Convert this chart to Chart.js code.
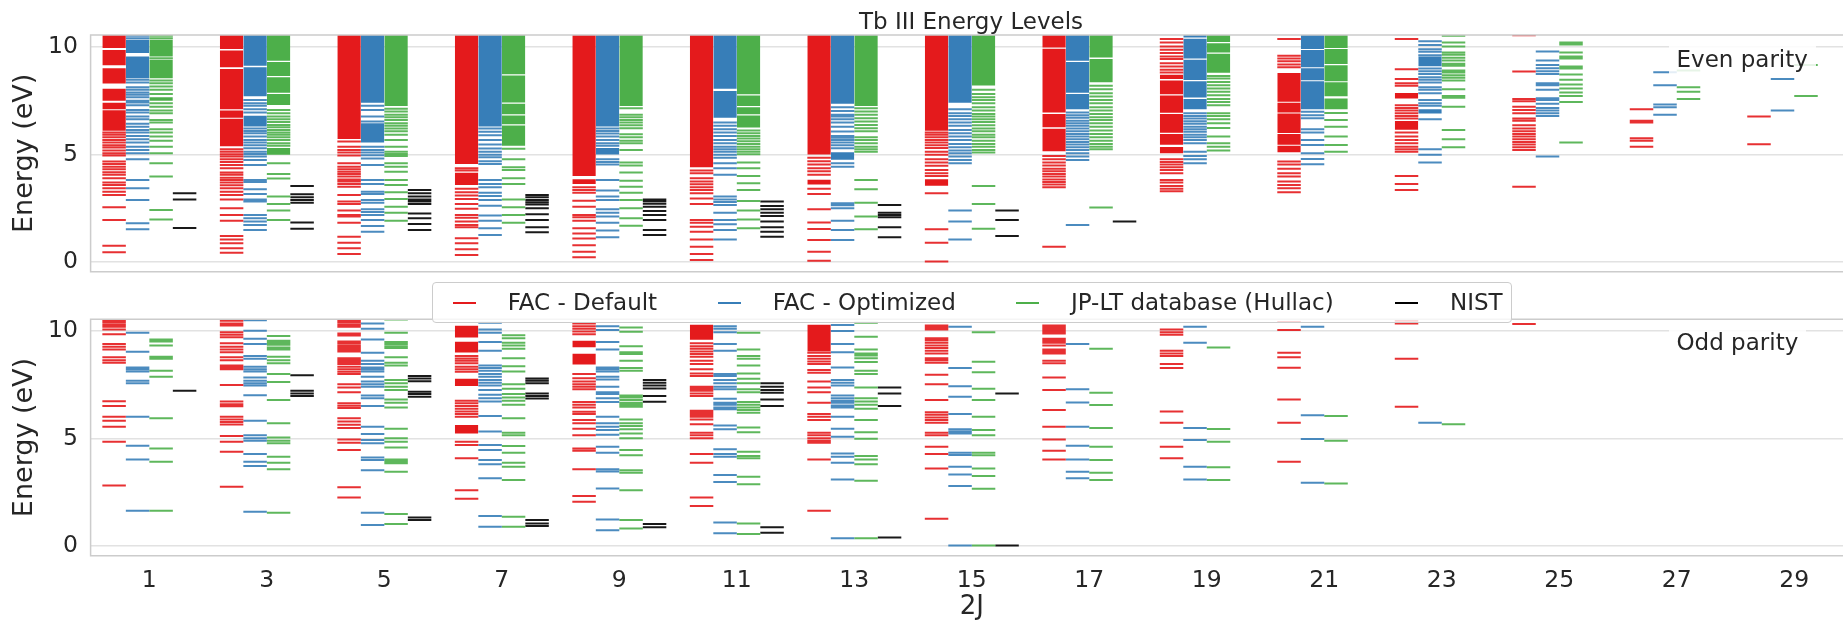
<!DOCTYPE html>
<html>
<head>
<meta charset="utf-8">
<title>Tb III Energy Levels</title>
<script src="https://cdn.jsdelivr.net/npm/chart.js@4.4.1/dist/chart.umd.min.js"></script>
<style>
  body { margin: 0; width: 1843px; height: 623px; overflow: hidden; background: #fff; position: relative;
         font-family: "DejaVu Sans", sans-serif; color: #262626; }
  .panel { position: absolute; left: 0; }
  #evenPanel { top: 0; }
  #oddPanel { top: 300px; }
  #title { position: absolute; top: 9.8px; left: 971px; transform: translateX(-50%); font-size: 23px; line-height: 23px; white-space: nowrap; z-index: 3; }
  .tag { position: absolute; left: 1668.5px; font-size: 23px; line-height: 30px; padding: 4px 8px;
         background: rgba(255,255,255,0.85); white-space: nowrap; z-index: 3; }
  #evenTag { top: 39.7px; }
  #oddTag { top: 323px; }
  #legend { position: absolute; left: 431.7px; top: 281.7px; width: 1078px; height: 39.5px; box-sizing: content-box;
            border: 1px solid #cccccc; border-radius: 4px; background: rgba(255,255,255,0.8);
            font-size: 23px; line-height: 39.5px; white-space: nowrap; z-index: 4; padding-left: 0; }
  #legend .item { position: absolute; top: 0; }
  #legend .swatch { display: inline-block; width: 23.3px; height: 2px; vertical-align: middle; margin-right: 31.7px; }
</style>
</head>
<body>
<div id="title">Tb III Energy Levels</div>
<div class="panel" id="evenPanel"><canvas id="even" width="1853" height="300"></canvas></div>
<div class="panel" id="oddPanel"><canvas id="odd" width="1853" height="323"></canvas></div>
<div class="tag" id="evenTag">Even parity</div>
<div class="tag" id="oddTag">Odd parity</div>
<div id="legend"></div>
<script>
// 2J values, one group of level columns per value
const twoJ = [1, 3, 5, 7, 9, 11, 13, 15, 17, 19, 21, 23, 25, 27, 29];
const xTicks = [1, 3, 5, 7, 9, 11, 13, 15, 17, 19, 21, 23, 25, 27, 29];
const yTicks = [0, 5, 10];

const sourceNames = ["FAC - Default", "FAC - Optimized", "JP-LT database (Hullac)", "NIST"];
const sourceColors = ["#e41a1c", "#377eb8", "#4daf4a", "#000000"];
const sourceOffsets = [-0.8, -0.4, 0, 0.4];
const colWidth = 0.4;

// ---- even parity levels (eV), one list per 2J ----
const evenDefault = [
  [6.02,5.91,5.80,5.67,5.55,5.43,5.32,5.18,5.05,4.95,4.67,4.56,4.43,4.31,4.17,4.05,3.89,3.69,3.58,3.43,3.27,3.12,2.54,1.95,0.76,0.45],
  [5.24,5.12,5.01,4.9,4.78,4.65,4.51,4.36,4.16,4.05,3.92,3.81,3.69,3.57,3.43,3.27,3.12,2.91,2.5,2.19,1.92,1.21,1.05,0.87,0.64,0.43],
  [5.6,5.36,5.21,5.09,4.95,4.59,4.43,4.31,4.2,4.09,3.97,3.84,3.74,3.63,3.5,3.12,2.81,2.7,2.39,2.19,2.11,1.83,1.18,0.9,0.64,0.37],
  [4.36,4.25,3.4,3.24,3.09,2.93,2.7,2.47,2.19,2.06,1.88,1.72,1.61,1.1,0.87,0.59,0.33],
  [3.47,3.35,3.22,2.85,2.57,2.19,2.08,1.92,1.57,1.33,1.09,0.78,0.48,0.22],
  [4.25,4.12,3.89,3.74,3.61,3.47,3.35,3.19,2.95,2.7,1.95,1.83,1.64,1.41,1.05,0.71,0.37,0.09],
  [4.84,4.68,4.53,4.36,4.22,4.06,3.41,3.16,2.45,1.84,1.53,1.02,0.48,0.06],
  [6.02,5.91,5.8,5.67,5.55,5.43,5.3,5.13,4.98,4.78,4.62,4.47,4.28,4.12,4.0,3.19,1.52,0.9,0.02],
  [4.93,4.78,4.62,4.48,4.34,4.22,4.09,3.97,3.84,3.72,3.6,3.47,0.71],
  [10.36,10.2,10.02,9.86,9.71,9.55,9.43,9.24,9.09,8.93,8.81,4.78,4.65,4.53,4.4,4.28,4.12,3.81,3.69,3.53,3.41,3.29],
  [10.36,9.58,9.46,9.33,9.18,9.05,4.67,4.53,4.34,4.12,3.97,3.74,3.58,3.43,3.24],
  [10.36,8.96,8.5,8.31,8.19,7.29,7.16,7.04,6.91,6.79,6.67,6.02,5.83,5.67,5.52,5.36,5.24,5.12,4.0,3.63,3.35],
  [10.54,8.85,7.57,7.47,7.22,7.07,6.91,6.67,6.57,6.36,6.2,6.08,5.95,5.83,5.71,5.58,5.46,5.33,5.21,3.5],
  [7.1,6.57,6.48,5.75,5.64,5.36],
  [6.76,5.47]
];
// ranges packed so densely that the levels merge into a block
const evenDefaultBands = [
  [[9.95,10.55],[9.15,9.85],[8.3,9.0],[7.5,8.05],[7.1,7.4],[6.1,7.05]],
  [[9.9,10.55],[9.05,9.83],[7.1,8.97],[6.71,7.04],[5.38,6.66]],
  [[5.72,10.55]],
  [[4.55,10.55],[3.58,4.15]],
  [[4.0,10.55],[3.62,3.85]],
  [[4.4,10.55]],
  [[5.0,10.55],[3.6,3.82]],
  [[6.1,10.55],[3.55,3.85]],
  [[9.97,10.55],[6.95,9.91],[6.26,6.88],[5.15,6.19]],
  [[8.5,8.7],[7.8,8.44],[6.94,7.74],[6.01,6.88],[5.45,5.95],[5.05,5.35]],
  [[7.45,8.78],[6.95,7.4],[6.0,6.9],[5.45,5.95],[5.1,5.4]],
  [[7.6,7.85],[6.15,6.55]]
];
const evenOptimized = [
  [10.51,10.4,8.47,8.34,8.12,8.0,7.88,7.77,7.66,7.5,7.41,7.29,7.07,6.95,6.76,6.64,6.42,6.29,6.14,6.02,5.86,5.71,5.55,5.36,5.21,5.05,4.78,3.81,3.43,2.88,1.8,1.52],
  [7.53,7.38,7.26,7.1,6.95,6.2,6.09,5.98,5.83,5.67,5.55,5.43,5.29,5.13,5.02,4.9,4.74,4.51,3.81,3.72,3.38,3.16,2.91,2.81,2.19,2.03,1.88,1.72,1.49],
  [7.26,7.07,6.76,6.53,5.36,5.21,5.09,4.96,4.81,4.51,3.81,3.63,3.27,3.16,2.88,2.76,2.45,2.33,2.19,1.95,1.67,1.41],
  [6.2,6.05,5.89,5.67,5.46,5.27,5.12,4.99,4.87,4.68,4.56,3.81,3.63,3.47,3.22,3.07,2.88,2.62,2.16,1.92,1.57,1.26],
  [6.2,6.09,5.97,5.83,5.67,5.52,5.4,4.78,4.65,4.53,3.81,3.32,3.04,2.88,2.45,2.29,2.11,1.83,1.46,1.15],
  [6.48,6.33,6.17,6.02,5.86,5.67,5.52,5.36,5.24,5.12,4.99,4.84,4.59,4.36,4.05,3.04,2.91,2.79,2.65,2.29,1.95,1.75,1.49,1.05],
  [7.19,7.02,6.84,6.76,6.64,6.48,6.29,6.06,5.86,5.77,5.67,5.55,5.43,5.29,4.59,4.43,2.73,2.64,2.5,1.92,1.49,1.02],
  [7.1,6.91,6.79,6.64,6.48,6.33,6.14,5.98,5.83,5.67,5.49,5.33,5.18,5.05,4.9,4.74,4.59,2.39,1.88,1.05],
  [6.95,6.82,6.7,6.57,6.45,6.33,6.2,6.08,5.95,5.83,5.71,5.58,5.46,5.33,5.21,5.05,4.9,4.74,1.72],
  [6.91,6.79,6.67,6.54,6.42,6.29,6.17,6.05,5.92,5.8,5.67,5.52,5.13,4.93,4.78,4.59],
  [6.98,6.82,6.68,6.17,6.02,5.67,5.44,5.05,4.79,4.54],
  [10.26,10.08,9.89,9.77,9.61,8.99,8.87,8.74,8.59,8.47,8.34,8.12,8.0,7.84,7.53,7.38,7.26,6.64,5.24,4.98,4.62],
  [9.78,9.36,9.16,9.01,8.87,8.74,8.31,8.22,8.0,7.61,7.53,7.35,7.16,7.04,6.91,6.79,4.9],
  [8.82,8.22,7.32,7.19,6.84],
  [8.5,7.04]
];
const evenOptimizedBands = [
  [[9.71,10.33],[8.54,9.55]],
  [[9.12,10.55],[7.7,9.05],[6.3,6.8]],
  [[7.4,10.55],[5.55,6.45]],
  [[6.3,10.55]],
  [[6.3,10.55],[5.0,5.3]],
  [[8.05,10.55],[6.7,7.95]],
  [[7.35,10.55],[4.75,5.1]],
  [[7.4,10.55]],
  [[9.35,10.55],[7.87,9.29],[7.1,7.81]],
  [[10.43,10.55],[9.46,10.37],[8.46,9.4],[7.64,8.4],[7.1,7.58]],
  [[9.9,10.55],[9.05,9.85],[8.45,9.0],[7.1,8.4]],
  [[9.1,9.55],[6.9,7.1]]
];
const evenJplt = [
  [10.51,10.4,9.47,8.43,8.31,8.16,8.0,7.81,7.38,7.22,7.04,6.91,6.6,6.48,6.17,6.02,5.83,5.64,5.36,5.05,4.59,3.97,2.42,1.98],
  [7.07,6.91,6.76,6.64,6.51,6.37,6.26,6.14,6.02,5.91,5.8,5.67,5.52,5.4,4.59,4.09,3.88,3.04,2.7,2.39,1.95],
  [7.12,6.99,6.84,6.73,6.6,6.45,6.33,6.2,6.08,5.91,5.67,5.36,5.13,5.02,4.93,4.59,4.43,4.2,3.81,3.58,3.24,2.93,2.57,2.29,1.92],
  [5.26,4.78,4.4,4.28,3.89,3.63,2.91,2.54,2.19,1.83],
  [7.15,6.84,6.73,6.6,6.48,6.36,6.22,5.94,5.8,5.64,5.52,5.21,4.62,4.48,4.16,3.78,3.5,3.22,2.88,2.5,2.03,1.69],
  [6.11,5.98,5.86,5.74,5.61,5.49,5.36,5.24,5.12,5.01,4.62,4.36,4.0,3.66,3.35,2.84,2.39,1.98,1.57],
  [7.15,6.99,6.84,6.68,6.53,6.37,6.22,6.08,5.8,5.67,5.52,5.36,5.24,5.13,3.81,3.38,2.76,2.11,1.52],
  [8.0,7.81,7.66,7.53,7.38,7.19,7.04,6.88,6.76,6.64,6.51,6.36,6.2,6.08,5.92,5.8,5.64,5.49,5.36,5.21,5.09,3.53,2.7,1.55],
  [8.19,8.03,7.84,7.69,7.53,7.38,7.19,7.04,6.88,6.73,6.6,6.45,6.29,6.11,5.95,5.8,5.64,5.49,5.36,5.24,2.53],
  [8.65,8.53,8.37,8.22,8.06,7.91,7.75,7.57,7.44,7.29,6.91,6.79,6.64,6.45,6.23,5.83,5.52,5.36,5.18],
  [6.92,6.6,6.29,5.83,5.44,5.13],
  [10.51,10.2,10.02,9.74,9.63,9.49,9.36,9.21,9.12,8.9,8.81,8.68,8.56,8.43,8.03,7.72,7.63,7.22,6.14,5.71,5.33],
  [10.2,10.11,9.74,9.55,9.46,9.09,8.99,8.71,8.47,8.25,8.06,7.88,7.72,7.44,5.55],
  [8.9,8.12,7.91,7.57],
  [9.16,7.72]
];
const evenJpltBands = [
  [[9.55,10.33],[8.54,9.4],[7.5,7.66]],
  [[9.35,10.55],[8.65,9.29],[7.87,8.59],[7.3,7.81],[4.98,5.3]],
  [[7.25,10.55]],
  [[8.73,10.55],[7.41,8.67],[6.87,7.35],[6.4,6.81],[5.4,6.34]],
  [[7.25,10.55]],
  [[7.8,10.55],[7.25,7.74],[6.87,7.19],[6.25,6.81]],
  [[7.25,10.55]],
  [[8.2,10.55]],
  [[9.5,10.55],[8.35,9.44]],
  [[10.23,10.55],[9.74,10.17],[8.8,9.68]],
  [[9.95,10.55],[9.2,9.9],[8.4,9.15],[7.7,8.35],[7.1,7.6]]
];
const evenNist = [
  [3.19,2.91,1.58],
  [3.53,3.15,3.01,2.88,2.76,1.84,1.55],
  [3.35,3.19,3.04,2.91,2.81,2.7,2.26,2.03,1.77,1.49],
  [3.12,3.01,2.88,2.78,2.67,2.5,2.22,1.95,1.61,1.38],
  [2.91,2.82,2.71,2.57,2.37,2.19,1.95,1.49,1.26],
  [2.81,2.6,2.45,2.29,2.14,1.88,1.61,1.41,1.18],
  [2.65,2.29,2.19,2.08,1.61,1.15],
  [2.39,1.95,1.21],
  [1.88]
];

// ---- odd parity levels (eV) ----
const oddDefault = [
  [10.48,10.39,10.29,10.2,10.08,9.86,9.4,9.27,9.15,8.78,8.65,8.53,6.74,6.51,6.02,5.83,5.55,4.85,2.82],
  [10.48,10.36,10.26,9.95,9.83,9.71,9.43,9.27,9.15,9.02,8.78,8.65,8.4,8.31,8.22,7.49,6.73,6.6,6.5,6.02,5.89,5.77,5.66,5.12,4.85,4.39,2.76],
  [10.48,10.39,10.29,10.2,9.89,9.8,9.52,9.43,9.33,9.24,9.15,9.05,8.74,8.65,8.56,8.47,8.34,8.22,8.11,8.0,7.53,7.38,7.16,6.64,6.53,6.42,5.95,5.8,5.64,5.49,4.96,4.81,4.47,2.73,2.26],
  [8.84,8.73,8.62,8.5,8.34,8.22,8.11,6.76,6.64,6.51,6.39,6.26,6.14,6.02,4.85,4.7,4.08,2.6,2.2],
  [10.36,10.23,10.11,9.98,9.86,8.0,7.81,7.66,7.53,7.41,7.29,6.7,6.57,6.45,6.25,6.14,5.86,5.71,5.46,5.15,4.54,4.43,3.57,2.33,2.06],
  [9.43,9.3,9.18,9.05,8.93,8.81,8.62,8.47,8.22,8.03,7.91,7.41,7.32,7.22,7.1,6.98,6.29,6.2,6.11,6.02,5.89,5.67,5.27,5.15,5.02,4.28,3.88,2.26,1.86],
  [8.99,8.84,8.71,8.59,8.47,8.19,8.06,7.66,7.38,7.16,6.67,6.14,6.02,5.86,5.27,5.15,5.02,4.9,4.81,4.03,1.64],
  [10.26,10.17,10.08,9.67,9.58,9.46,9.33,9.21,9.09,8.96,8.74,8.65,8.53,7.97,7.53,6.79,6.23,6.11,5.98,5.86,5.74,5.27,5.15,4.62,4.28,3.61,1.27],
  [10.26,10.17,10.08,9.98,9.89,9.64,9.55,9.46,9.33,9.15,9.05,8.96,8.62,8.5,7.84,7.26,6.33,5.55,4.96,4.43,4.03],
  [10.08,9.95,9.83,9.09,8.96,8.84,8.47,8.28,6.26,5.74,4.62,4.08],
  [10.43,10.05,8.99,8.78,8.29,6.82,5.74,3.92],
  [10.48,10.36,8.71,6.48],
  [10.33]
];
const oddDefaultBands = [
  [], [], [],
  [[9.7,10.25],[9.0,9.5],[7.45,7.78],[5.24,5.63]],
  [[9.25,9.55],[8.45,8.95]],
  [[9.6,10.3]],
  [[9.05,10.3]]
];
const oddOptimized = [
  [9.92,9.04,8.31,8.22,8.12,7.69,7.57,6.02,4.67,4.03,1.64],
  [10.51,10.02,9.64,9.4,8.84,8.71,8.34,8.23,8.12,7.84,7.69,7.57,7.47,7.02,5.83,5.16,5.01,4.9,4.28,3.92,3.72,1.6],
  [10.36,10.11,9.61,8.99,8.62,8.47,8.31,8.22,8.12,7.88,7.66,7.53,7.41,7.01,6.88,6.51,5.55,5.21,4.93,4.78,4.12,4.0,3.53,1.55,0.98],
  [10.39,10.08,9.92,9.49,9.09,8.4,8.28,8.16,8.0,7.88,7.72,7.6,7.47,7.26,7.04,6.88,6.73,6.05,5.33,4.7,4.47,4.0,3.81,3.15,1.4,0.9],
  [10.23,10.05,9.49,9.15,8.31,8.22,8.12,7.88,7.75,7.41,7.16,7.07,6.88,6.7,6.02,5.71,5.55,5.4,5.18,4.62,4.34,3.57,3.47,2.68,1.24,0.74],
  [10.23,10.11,9.95,9.4,9.09,8.0,7.91,7.72,7.57,7.41,7.29,6.85,6.67,6.57,6.45,6.36,5.61,5.43,4.5,4.28,4.16,3.3,2.98,1.09,0.59],
  [10.28,10.0,9.4,9.02,8.31,7.72,7.6,7.47,7.01,6.88,6.76,6.67,6.54,6.45,6.02,5.46,5.09,4.31,4.16,3.88,3.1,0.36],
  [10.2,8.28,7.44,6.95,6.14,5.43,5.33,5.24,4.34,4.23,3.69,3.33,2.79,0.03],
  [9.4,7.3,6.68,5.55,4.67,4.03,3.46,3.15],
  [10.2,9.46,5.49,4.93,3.69,3.1],
  [10.2,6.08,4.98,2.95],
  [5.74]
];
const oddJplt = [
  [9.61,9.52,9.33,8.81,8.71,8.16,7.88,5.94,4.54,3.92,1.64],
  [9.77,9.55,9.46,9.36,9.24,9.15,8.81,8.65,8.5,8.0,7.63,6.79,5.71,5.05,4.9,4.78,4.16,3.88,3.57,1.55],
  [10.54,9.92,9.49,9.4,9.3,9.21,8.78,8.53,8.4,7.72,7.57,7.41,7.26,6.82,6.67,6.45,5.46,5.01,4.85,4.59,4.03,3.94,3.85,3.46,1.49,1.02],
  [9.81,9.67,9.46,9.33,9.18,8.74,8.37,8.12,7.53,7.32,7.07,6.91,6.76,6.57,5.94,5.27,5.16,4.65,4.34,3.88,3.69,3.07,1.36,0.9],
  [10.17,9.97,9.3,9.02,8.93,8.62,8.28,8.16,7.01,6.91,6.79,6.67,6.57,6.48,5.89,5.71,5.58,5.43,5.24,5.01,4.47,4.22,3.53,3.41,2.6,1.21,0.82],
  [9.92,9.15,8.84,8.71,8.4,8.03,7.78,7.57,7.29,7.16,6.7,6.57,6.45,6.33,6.2,5.52,5.3,4.39,4.19,4.08,3.22,2.88,1.05,0.56],
  [10.39,9.74,9.15,8.96,8.87,8.74,8.56,8.16,8.0,7.38,6.88,6.73,6.57,6.39,5.86,5.3,4.99,4.19,4.03,3.81,3.04,0.36],
  [9.95,8.57,8.09,7.32,6.79,6.02,5.4,5.16,4.34,4.22,3.61,3.26,2.67,0.03],
  [9.18,7.13,6.56,5.49,4.62,4.0,3.41,3.07],
  [9.24,5.44,4.85,3.66,3.07],
  [6.05,4.9,2.91],
  [5.67]
];
const oddNist = [
  [7.22],
  [7.95,7.22,7.1,6.98],
  [7.91,7.8,7.67,7.18,7.07,6.95,1.33,1.21],
  [7.8,7.69,7.57,7.1,6.98,6.87,1.21,1.05,0.93],
  [7.72,7.6,7.47,7.33,6.98,6.71,1.02,0.87],
  [7.57,7.41,7.26,7.13,6.82,6.51,0.87,0.62],
  [7.38,7.1,6.51,0.4],
  [7.1,0.03]
];

Chart.defaults.font.family = "'DejaVu Sans', sans-serif";
Chart.defaults.color = "#262626";

// short horizontal segment per level, broken apart by null points
function levelPoints(levels, off) {
  const pts = [];
  twoJ.forEach((j, i) => {
    (levels[i] || []).forEach((e) => {
      pts.push({ x: j + off, y: e }, { x: j + off + colWidth, y: e }, { x: j + off + colWidth, y: null });
    });
  });
  return pts;
}

function bandDatasets(bands, off, color) {
  const out = [];
  twoJ.forEach((j, i) => {
    (bands[i] || []).forEach(([lo, hi]) => {
      out.push({
        data: [{ x: j + off, y: hi }, { x: j + off + colWidth, y: hi }],
        fill: { value: lo },
        backgroundColor: color,
        borderColor: "transparent",
        borderWidth: 0,
        pointRadius: 0,
      });
    });
  });
  return out;
}

// left, top and bottom spines
const frame = {
  id: "frame",
  afterDatasetsDraw(chart) {
    const { ctx, chartArea: a } = chart;
    ctx.save();
    ctx.strokeStyle = "#cccccc";
    ctx.lineWidth = 1.5;
    ctx.beginPath();
    ctx.moveTo(a.right, a.top);
    ctx.lineTo(a.left, a.top);
    ctx.lineTo(a.left, a.bottom);
    ctx.lineTo(a.right, a.bottom);
    ctx.stroke();
    ctx.restore();
  },
};

function makePanel(id, levelSets, bandSets, showX) {
  const datasets = [];
  levelSets.forEach((levels, k) => {
    datasets.push(...bandDatasets(bandSets[k] || [], sourceOffsets[k], sourceColors[k]));
    datasets.push({
      label: sourceNames[k],
      data: levelPoints(levels, sourceOffsets[k]),
      borderColor: sourceColors[k] + "e6",
      borderWidth: 2,
      pointRadius: 0,
      spanGaps: false,
      fill: false,
    });
  });

  return new Chart(document.getElementById(id), {
    type: "line",
    data: { datasets },
    options: {
      responsive: false,
      animation: false,
      events: [],
      layout: {
        padding: showX ? { top: 19.3, bottom: 0, left: 0, right: 0 } : { top: 35, bottom: 28.3, left: 0, right: 0 },
      },
      plugins: {
        legend: { display: false },
        tooltip: { enabled: false },
      },
      scales: {
        x: {
          type: "linear",
          min: 0,
          max: 30,
          display: showX,
          grid: { display: false, drawTicks: false },
          border: { display: false },
          ticks: { font: { size: 23.5 }, padding: 11, maxRotation: 0, autoSkip: false },
          afterBuildTicks: (s) => { s.ticks = xTicks.map((v) => ({ value: v })); },
          afterFit: (s) => {
            s.height = showX ? 67.3 : 0;
            s.paddingLeft = 0;
            s.paddingRight = 0;
          },
          title: { display: true, text: "2J", font: { size: 26 }, padding: { top: 0, bottom: 0 } },
        },
        y: {
          min: -0.45,
          max: 10.55,
          grid: { color: "#e2e2e2", lineWidth: 1.5, drawTicks: false },
          border: { display: false },
          ticks: { font: { size: 23.5 }, padding: 12.7 },
          afterBuildTicks: (s) => { s.ticks = yTicks.map((v) => ({ value: v })); },
          afterFit: (s) => { s.width = 90.6; s.paddingTop = 0; s.paddingBottom = 0; },
          title: { display: true, text: "Energy (eV)", font: { size: 27 }, padding: { top: 9, bottom: 0 } },
        },
      },
    },
    plugins: [frame],
  });
}

makePanel("even", [evenDefault, evenOptimized, evenJplt, evenNist], [evenDefaultBands, evenOptimizedBands, evenJpltBands, []], false);
makePanel("odd", [oddDefault, oddOptimized, oddJplt, oddNist], [oddDefaultBands, [], [], []], true);

// legend row shared by both panels
const legendX = [20, 285, 583.3, 962.3];
const legend = document.getElementById("legend");
sourceNames.forEach((name, k) => {
  const item = document.createElement("span");
  item.className = "item";
  item.style.left = legendX[k] + "px";
  const sw = document.createElement("span");
  sw.className = "swatch";
  sw.style.background = sourceColors[k];
  item.appendChild(sw);
  item.appendChild(document.createTextNode(name));
  legend.appendChild(item);
});
</script>
</body>
</html>
